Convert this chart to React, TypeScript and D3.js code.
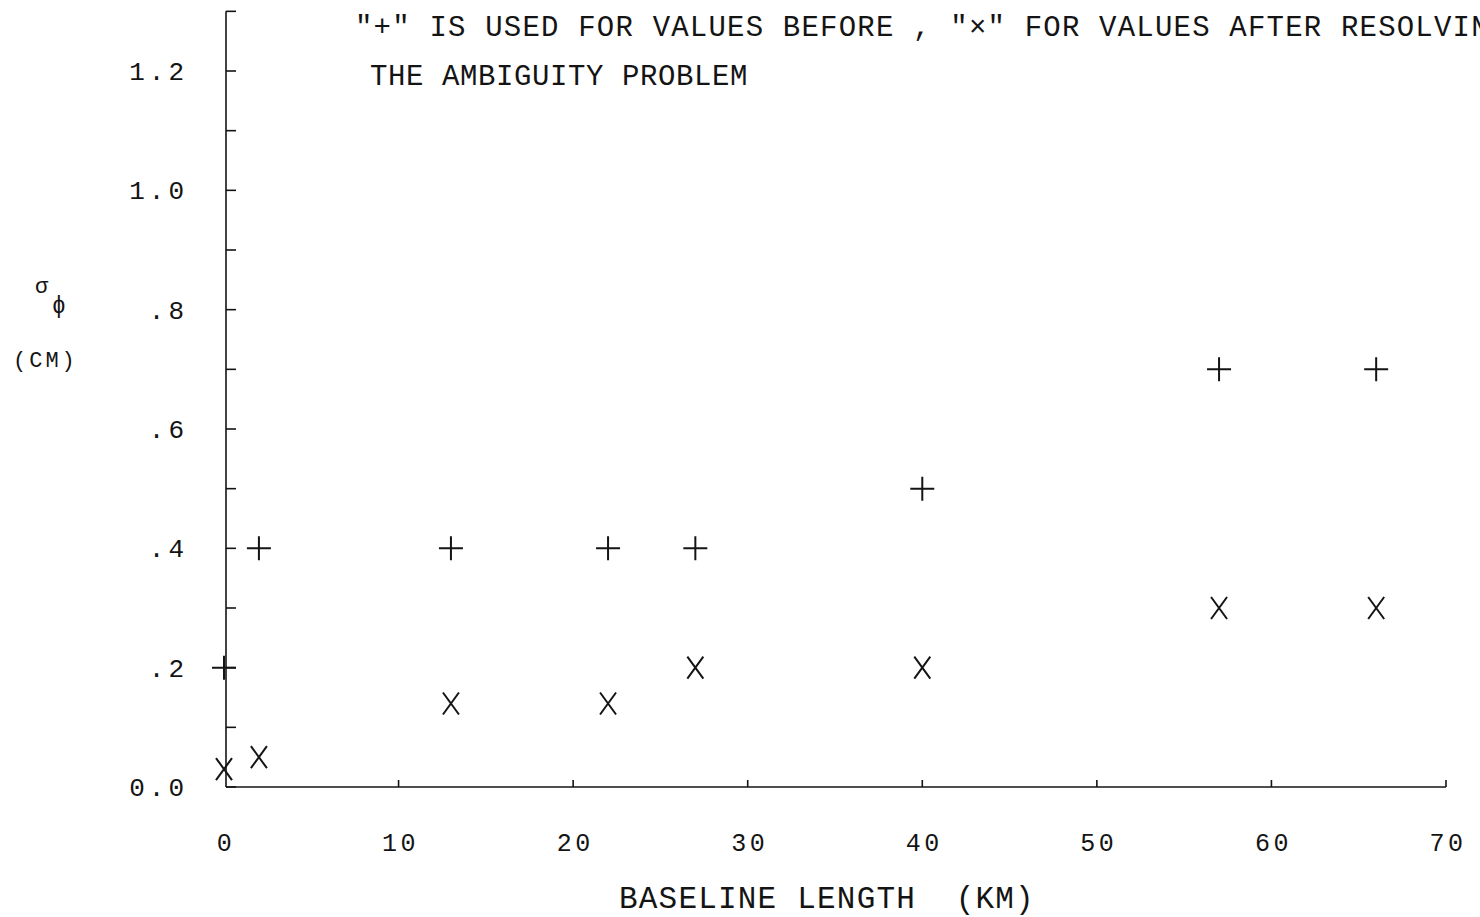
import * as d3 from "d3";
import { useEffect, useRef } from "react";

// baseline length (km) and sigma phi (cm)
const plusKm = [0, 2, 13, 22, 27, 40, 57, 66];
const plusSigma = [0.2, 0.4, 0.4, 0.4, 0.4, 0.5, 0.7, 0.7];
const crossKm = [0, 2, 13, 22, 27, 40, 57, 66];
const crossSigma = [0.03, 0.05, 0.14, 0.14, 0.2, 0.2, 0.3, 0.3];

const xTicks = [0, 10, 20, 30, 40, 50, 60, 70];
const yTicks = [0, 0.2, 0.4, 0.6, 0.8, 1.0, 1.2];
const yTickLabels = ["0.0", ".2", ".4", ".6", ".8", "1.0", "1.2"];
const yMinorTicks = d3.range(0, 14).map((i) => i / 10);

const FONT = "'Liberation Mono', 'DejaVu Sans Mono', monospace";
const INK = "#141414";

const App: React.FC = () => {
  const ref = useRef<SVGSVGElement | null>(null);

  useEffect(() => {
    if (!ref.current) return;
    const svg = d3.select(ref.current);
    svg.selectAll("*").remove();
    const width = 1480;
    const height = 917;
    svg.attr("width", width).attr("height", height);

    const x = d3.scaleLinear().domain([0, 70]).range([224, 1446]);
    const y = d3.scaleLinear().domain([0, 1.2]).range([787, 71]);
    const axisX = 226;

    const g = svg.append("g").attr("stroke", INK).attr("fill", "none");

    // y axis
    g.append("line")
      .attr("x1", axisX).attr("x2", axisX)
      .attr("y1", y(0)).attr("y2", y(1.3))
      .attr("stroke-width", 1.6);
    g.selectAll("line.ytick")
      .data(yMinorTicks)
      .join("line")
      .attr("class", "ytick")
      .attr("x1", axisX).attr("x2", axisX + 10)
      .attr("y1", (d) => y(d)).attr("y2", (d) => y(d))
      .attr("stroke-width", 1.6);

    // x axis
    g.append("line")
      .attr("x1", axisX).attr("x2", x(70))
      .attr("y1", y(0)).attr("y2", y(0))
      .attr("stroke-width", 1.6);
    g.selectAll("line.xtick")
      .data(xTicks.slice(1))
      .join("line")
      .attr("class", "xtick")
      .attr("x1", (d) => x(d)).attr("x2", (d) => x(d))
      .attr("y1", y(0)).attr("y2", y(0) - 7)
      .attr("stroke-width", 1.6);

    // tick labels
    const t = svg.append("g").attr("fill", INK).attr("font-family", FONT);
    t.selectAll("text.ylab")
      .data(yTicks)
      .join("text")
      .attr("class", "ylab")
      .attr("x", 188)
      .attr("y", (d) => y(d) + 9)
      .attr("text-anchor", "end")
      .attr("font-size", 26)
      .attr("letter-spacing", 4)
      .text((_, i) => yTickLabels[i]);

    t.selectAll("text.xlab")
      .data(xTicks)
      .join("text")
      .attr("class", "xlab")
      .attr("x", (d) => x(d) + 2)
      .attr("y", 851)
      .attr("text-anchor", "middle")
      .attr("font-size", 25)
      .attr("letter-spacing", 3.5)
      .text((d) => String(d));

    // axis titles
    t.append("text")
      .attr("x", 619).attr("y", 908)
      .attr("font-size", 31)
      .attr("letter-spacing", 1.2)
      .attr("xml:space", "preserve")
      .text("BASELINE LENGTH  (KM)");

    t.append("text").attr("x", 35).attr("y", 293).attr("font-size", 22).text("σ");
    t.append("text").attr("x", 52).attr("y", 313).attr("font-size", 23).text("ϕ");
    t.append("text")
      .attr("x", 13).attr("y", 367)
      .attr("font-size", 22)
      .attr("letter-spacing", 3)
      .text("(CM)");

    // note (runs past the right edge, as in the original plot)
    t.append("text")
      .attr("x", 355).attr("y", 36)
      .attr("font-size", 29)
      .attr("letter-spacing", 1.2)
      .attr("xml:space", "preserve")
      .text('"+" IS USED FOR VALUES BEFORE , "×" FOR VALUES AFTER RESOLVING');
    t.append("text")
      .attr("x", 370).attr("y", 85)
      .attr("font-size", 29)
      .attr("letter-spacing", 0.6)
      .text("THE AMBIGUITY PROBLEM");

    // markers
    const plusData = plusKm.map((k, i) => ({ k, v: plusSigma[i] }));
    const crossData = crossKm.map((k, i) => ({ k, v: crossSigma[i] }));

    const m = svg.append("g").attr("stroke", INK).attr("fill", "none").attr("stroke-width", 2);
    m.selectAll("path.plus")
      .data(plusData)
      .join("path")
      .attr("class", "plus")
      .attr("d", (d) => {
        const cx = x(d.k), cy = y(d.v);
        return `M${cx - 12},${cy}H${cx + 12}M${cx},${cy - 12}V${cy + 12}`;
      });
    m.selectAll("path.cross")
      .data(crossData)
      .join("path")
      .attr("class", "cross")
      .attr("d", (d) => {
        const cx = x(d.k), cy = y(d.v);
        return `M${cx - 8},${cy - 11}L${cx + 8},${cy + 11}M${cx - 8},${cy + 11}L${cx + 8},${cy - 11}`;
      });
  }, []);

  return (
    <svg
      ref={ref}
      style={{ position: "absolute", left: 0, top: 0, background: "#fff" }}
    ></svg>
  );
};

export default App;
